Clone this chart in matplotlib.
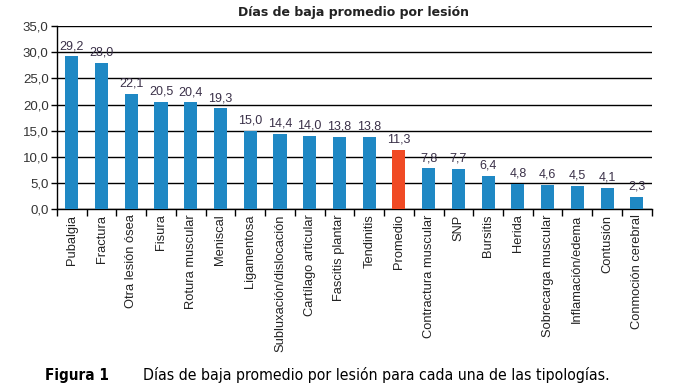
import numpy as np
import matplotlib
matplotlib.use('Agg')
from matplotlib import pyplot as plt

categorias = ['Pubalgia', 'Fractura', 'Otra lesión ósea', 'Fisura', 'Rotura muscular',
              'Meniscal', 'Ligamentosa', 'Subluxación/dislocación', 'Cartílago articular',
              'Fascitis plantar', 'Tendinitis', 'Promedio', 'Contractura muscular', 'SNP',
              'Bursitis', 'Herida', 'Sobrecarga muscular', 'Inflamación/edema',
              'Contusión', 'Conmoción cerebral']
dias = [29.2, 28.0, 22.1, 20.5, 20.4, 19.3, 15.0, 14.4, 14.0, 13.8, 13.8, 11.3,
        7.8, 7.7, 6.4, 4.8, 4.6, 4.5, 4.1, 2.3]
yticks = [0, 5, 10, 15, 20, 25, 30, 35]


def fmt(v):
    return ('%.1f' % v).replace('.', ',')


if __name__ == '__main__':
    plt.rcParams['font.family'] = ['Liberation Sans', 'DejaVu Sans']

    fig = plt.figure(figsize=(6.86, 3.9), dpi=100)
    ax = fig.add_axes([0.083, 0.464, 0.867, 0.469])

    x = np.arange(len(categorias))
    colores = ['#f04a24' if c == 'Promedio' else '#1f88c4' for c in categorias]

    ax.set_axisbelow(True)
    ax.yaxis.grid(True, color='black', linewidth=1.0)
    ax.bar(x, dias, width=0.44, color=colores, zorder=3)

    for xi, v in zip(x, dias):
        ax.annotate(fmt(v), (xi, v), xytext=(0, 3), textcoords='offset points',
                    ha='center', va='bottom', fontsize=9, color='#3a3048')

    ax.set_xlim(-0.5, len(categorias) - 0.5)
    ax.set_ylim(0, 35)
    ax.set_yticks(yticks)
    ax.set_yticklabels([fmt(t) for t in yticks], fontsize=9.5, color='#333333')

    ax.set_xticks(x)
    ax.set_xticklabels(categorias, rotation=90, fontsize=9.3, color='#222222')
    ax.tick_params(axis='x', which='major', length=0, pad=4)
    ax.set_xticks(np.arange(len(categorias) + 1) - 0.5, minor=True)
    ax.tick_params(axis='x', which='minor', length=5, width=1, color='black')
    ax.tick_params(axis='y', length=4, width=1, color='black', pad=2)

    for s in ['top', 'right']:
        ax.spines[s].set_visible(False)
    ax.spines['left'].set_linewidth(1.0)
    ax.spines['bottom'].set_linewidth(1.0)

    fig.text(0.516, 0.968, 'Días de baja promedio por lesión', ha='center', va='center',
             fontsize=9, fontweight='bold', family='DejaVu Sans', color='#222222')

    fig.text(0.066, 0.038, 'Figura 1', ha='left', va='center', fontsize=11,
             fontweight='bold', family='DejaVu Sans', fontstretch='condensed')
    fig.text(0.208, 0.038, 'Días de baja promedio por lesión para cada una de las tipologías.',
             ha='left', va='center', fontsize=11.3, family='DejaVu Sans',
             fontstretch='condensed')

    fig.savefig('out.png', dpi=100)
